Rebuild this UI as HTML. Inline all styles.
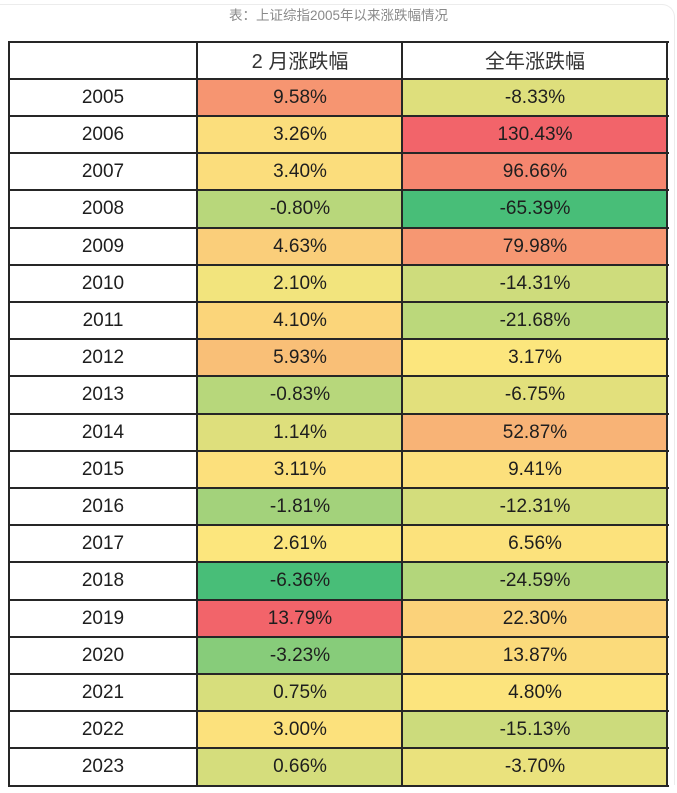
<!DOCTYPE html>
<html><head><meta charset="utf-8"><style>
html,body{margin:0;padding:0;background:#fff;width:677px;height:793px;overflow:hidden;}
body{position:relative;font-family:"Liberation Sans","Noto Sans CJK SC",sans-serif;}
.card{position:absolute;left:-20px;top:4px;width:693px;height:780px;border:1px solid #ececec;border-bottom:none;border-radius:13px 13px 0 0;}
.cap{position:absolute;left:0;width:677px;top:7px;text-align:center;font-size:13.5px;color:#8a8a8a;line-height:18px;font-family:"Liberation Sans","Noto Sans CJK SC",sans-serif;}
.c{position:absolute;display:flex;align-items:center;justify-content:center;font-size:19px;color:#1e1e1e;}
.h{font-family:"Liberation Sans","Noto Sans CJK SC",sans-serif;font-size:20px;color:#333;}
.hl{position:absolute;left:8px;width:661px;height:2px;background:#262626;}
.vl{position:absolute;top:41px;width:2px;height:745px;background:#262626;}
</style></head><body>
<div class="card"></div>
<div class="cap">表：上证综指2005年以来涨跌幅情况</div>
<div id="t"></div>
<script>
var rows=[
["2005","9.58%","246,149,113","-8.33%","222,223,124"],
["2006","3.26%","251,222,124","130.43%","242,100,106"],
["2007","3.40%","251,221,124","96.66%","245,134,111"],
["2008","-0.80%","184,215,123","-65.39%","72,190,120"],
["2009","4.63%","250,206,122","79.98%","246,151,114"],
["2010","2.10%","242,228,125","-14.31%","206,220,124"],
["2011","4.10%","251,213,122","-21.68%","187,216,123"],
["2012","5.93%","249,191,119","3.17%","252,230,125"],
["2013","-0.83%","183,215,123","-6.75%","226,224,124"],
["2014","1.14%","222,223,124","52.87%","248,179,118"],
["2015","3.11%","252,224,124","9.41%","252,224,124"],
["2016","-1.81%","163,210,123","-12.31%","211,221,124"],
["2017","2.61%","252,230,125","6.56%","252,226,124"],
["2018","-6.36%","72,190,120","-24.59%","179,214,123"],
["2019","13.79%","242,100,106","22.30%","251,210,122"],
["2020","-3.23%","135,204,122","13.87%","251,219,123"],
["2021","0.75%","215,222,124","4.80%","252,228,125"],
["2022","3.00%","252,225,124","-15.13%","204,219,124"],
["2023","0.66%","213,221,124","-3.70%","234,226,125"]];
var h="";var top0=41,rh=37.2;
function cell(x0,x1,y,bg,txt,cls){return '<div class="c '+(cls||'')+'" style="left:'+x0+'px;width:'+(x1-x0)+'px;top:'+y.toFixed(1)+'px;height:'+rh+'px;background:'+bg+'">'+txt+'</div>';}
h+=cell(9,197,top0,"#fff","");
h+=cell(198,402,top0,"#fff","2 月涨跌幅","h");
h+=cell(403,667,top0,"#fff","全年涨跌幅","h");
for(var i=0;i<rows.length;i++){var y=top0+(i+1)*rh;var r=rows[i];
h+=cell(9,197,y+1,"#fff",r[0]);
h+=cell(198,402,y+1,"rgb("+r[2]+")",r[1]);
h+=cell(403,667,y+1,"rgb("+r[4]+")",r[3]);}
for(var i=0;i<=20;i++){var y=top0+i*rh;h+='<div class="hl" style="top:'+(y-0.5).toFixed(1)+'px"></div>';}
[8,196,401,666].forEach(function(x){h+='<div class="vl" style="left:'+x+'px"></div>';});
document.getElementById("t").innerHTML=h;
</script>
</body></html>
